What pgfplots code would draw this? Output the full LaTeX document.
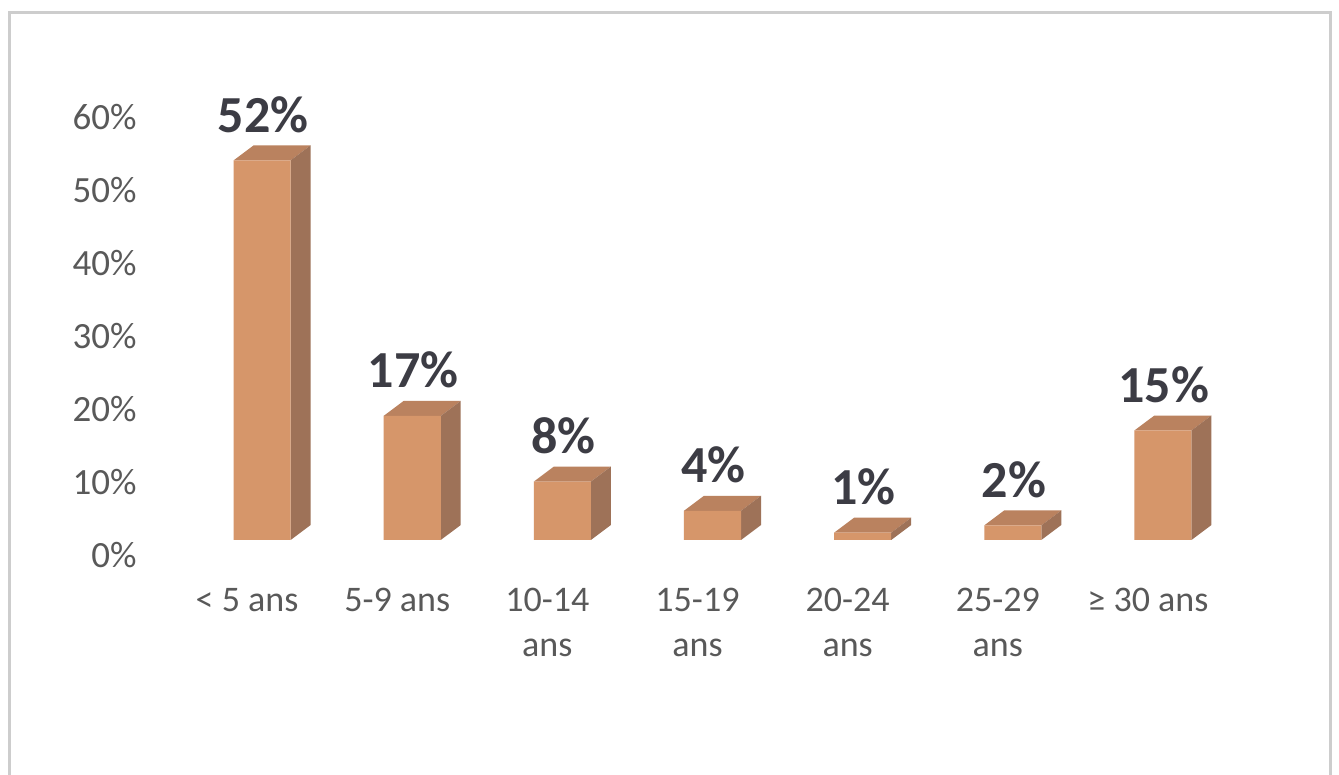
\documentclass[border=0pt]{standalone}
\usepackage{pgfplots}
\usepackage{pgfplotstable}
\usepackage{fontspec}
\setmainfont{Carlito}
\pgfplotsset{compat=1.18}
\definecolor{front}{RGB}{214,150,106}
\definecolor{topc}{RGB}{186,130,95}
\definecolor{side}{RGB}{158,114,88}
\definecolor{ticktext}{RGB}{89,89,89}
\definecolor{labeltext}{RGB}{60,60,68}
\definecolor{framec}{RGB}{205,205,205}

\pgfplotstableread{
x v
0 52
1 17
2 8
3 4
4 1
5 2
6 15
}\data

\newcommand\cube[2]{%
 \pgfmathsetmacro\xa{#1-0.09}%
 \pgfmathsetmacro\xb{#1+0.29}%
 \pgfmathsetmacro\xc{#1-0.09+0.133}%
 \pgfmathsetmacro\xd{#1+0.29+0.133}%
 \pgfmathsetmacro\yt{#2+2.05}%
 \edef\temp{\noexpand\addplot[fill=topc,draw=none,forget plot] coordinates {(\xa,#2) (\xc,\yt) (\xd,\yt) (\xb,#2)} -- cycle;
 \noexpand\addplot[fill=side,draw=none,forget plot] coordinates {(\xb,0) (\xd,2.05) (\xd,\yt) (\xb,#2)} -- cycle;}%
 \temp}

\begin{document}
\begin{tikzpicture}
\useasboundingbox (0,0) rectangle (669.5pt,387.5pt);
\fill[white] (0,0) rectangle (669.5pt,387.5pt);
\draw[framec, line width=1.5pt] (4.5pt,-2pt) -- (4.5pt,381pt) -- (665pt,381pt) -- (665pt,-2pt);
\begin{axis}[
  at={(86pt,117.5pt)}, anchor=south west,
  scale only axis, width=525.5pt, height=237.25pt,
  xmin=-0.5, xmax=6.5, ymin=0, ymax=65,
  clip=false,
  axis line style={draw=none},
  major tick length=0pt,
  xtick={0,...,6},
  xticklabels={{< 5 ans},{5-9 ans},{10-14\\ans},{15-19\\ans},{20-24\\ans},{25-29\\ans},{≥ 30 ans}},
  xticklabel style={anchor=north, inner sep=0pt, yshift=-24pt, align=center,
     font=\fontsize{18}{22.5}\selectfont, text=ticktext},
  ytick={0,10,...,60},
  yticklabels={0\%,10\%,20\%,30\%,40\%,50\%,60\%},
  yticklabel style={anchor=east, inner sep=0pt, xshift=-17.5pt, yshift=-7.5pt,
     font=\fontsize{18.5}{22}\selectfont, text=ticktext},
]
\pgfplotsforeachungrouped \i in {0,...,6}{%
  \pgfplotstablegetelem{\i}{v}\of\data
  \edef\val{\pgfplotsretval}%
  \cube{\i}{\val}}
\addplot[ybar, bar width=0.38, bar shift=0.1, fill=front, draw=none,
  nodes near coords={\pgfmathprintnumber[assume math mode=true]{\pgfplotspointmeta}\%},
  every node near coord/.append style={anchor=base, yshift=14pt, xshift=8pt,
     font=\fontsize{26}{30}\selectfont\bfseries, text=labeltext}]
  table[x=x, y=v] {\data};
\end{axis}
\end{tikzpicture}
\end{document}
